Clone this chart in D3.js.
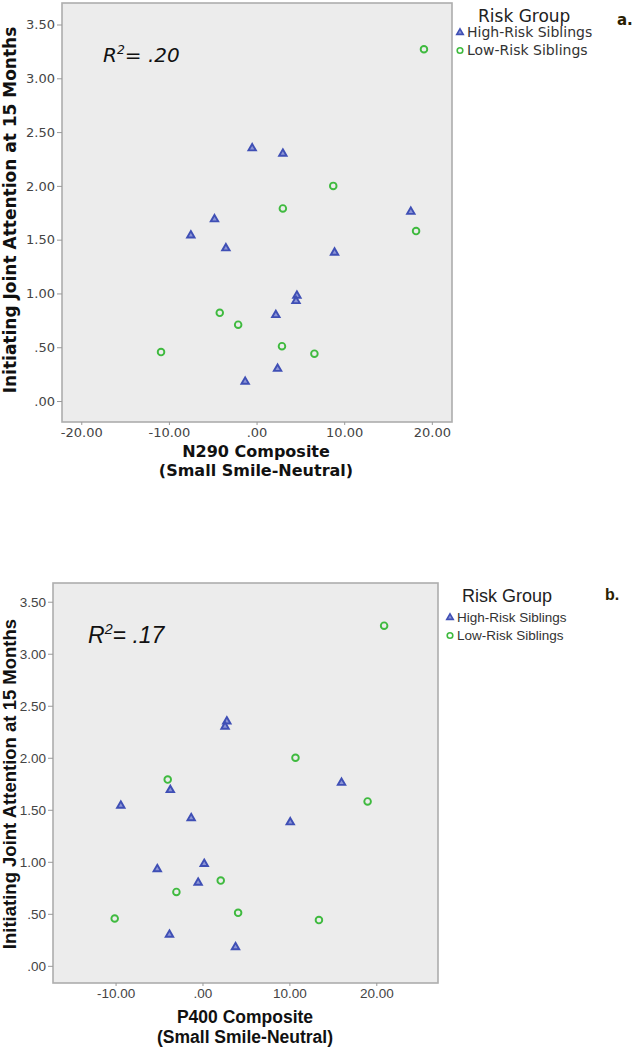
<!DOCTYPE html>
<html><head><meta charset="utf-8">
<script src="https://cdn.jsdelivr.net/npm/d3@7"></script>
<style>body{margin:0;background:#fff}</style>
</head><body>
<svg id="c" width="635" height="1050"></svg>
<script>
// ---------- data ----------
const riskGroups = ["High-Risk Siblings", "Low-Risk Siblings"];
const yTicks = [0, 0.5, 1, 1.5, 2, 2.5, 3, 3.5];
const xTicksA = [-20, -10, 0, 10, 20];
const xTicksB = [-10, 0, 10, 20];
// Initiating Joint Attention at 15 months
const ijaHigh = [2.35, 2.30, 1.76, 1.69, 1.54, 1.42, 1.38, 0.98, 0.93, 0.80, 0.30, 0.18];
const ijaLow  = [3.27, 2.00, 1.79, 1.58, 0.82, 0.71, 0.51, 0.455, 0.44];
// panel a: N290 composite
const n290High = [-0.5, 3.0, 17.6, -4.8, -7.5, -3.5, 8.9, 4.6, 4.5, 2.2, 2.4, -1.3];
const n290Low  = [19.1, 8.75, 3.0, 18.2, -4.2, -2.1, 2.9, -10.9, 6.6];
// panel b: P400 composite
const p400High = [2.8, 2.6, 16.0, -3.7, -9.4, -1.3, 10.1, 0.2, -5.2, -0.5, -3.8, 3.8];
const p400Low  = [20.9, 10.7, -4.0, 19.0, 2.1, -3.0, 4.1, -10.1, 13.4];
const r2Values = [".20", ".17"];
const xTitles = [["N290 Composite", "(Small Smile-Neutral)"], ["P400 Composite", "(Small Smile-Neutral)"]];
const yTitle = "Initiating Joint Attention at 15 Months";
const panelLetters = ["a.", "b."];

// ---------- layout ----------
const svg = d3.select("#c");
const blue = "#3f4fb5", green = "#3fba3f";

const panels = [
  { font: "DejaVu Sans", left: 62, right: 452, top: 3, bottom: 422,
    xDom: [-22.2, 22.3], yDom: [-0.195, 3.70], xTicks: xTicksA,
    high: n290High, low: n290Low, r2: r2Values[0], xTitle: xTitles[0], letter: panelLetters[0],
    tickFs: 13, titleFs: 17, xTitleFs: 16, yTitleX: 16, yTitleY: 210, xTitleX: 256, xTitleY1: 457, xTitleY2: 476,
    tickLabelY: 15, r2x: 103, r2y: 62, r2fs: 20,
    legX: 460, legTitleX: 478, legTitleY: 22, legTitleFs: 17, legItemY: [37, 55], legFs: 14, legTextX: 467,
    letterX: 617, letterY: 25, letterFs: 15 },
  { font: "Liberation Sans", left: 53, right: 438, top: 583, bottom: 983,
    xDom: [-17.2, 27.1], yDom: [-0.165, 3.68], xTicks: xTicksB,
    high: p400High, low: p400Low, r2: r2Values[1], xTitle: xTitles[1], letter: panelLetters[1],
    tickFs: 13.5, titleFs: 18.5, xTitleFs: 17.5, yTitleX: 16, yTitleY: 784, xTitleX: 245, xTitleY1: 1023, xTitleY2: 1043,
    tickLabelY: 15, r2x: 88, r2y: 643, r2fs: 23,
    legX: 450, legTitleX: 462, legTitleY: 602, legTitleFs: 18, legItemY: [622, 640], legFs: 13.5, legTextX: 457,
    letterX: 605, letterY: 600, letterFs: 16 }
];

function fmt(d) {
  let s = d.toFixed(2);
  if (s.startsWith("0.")) s = s.slice(1);
  if (s.startsWith("-0.")) s = "-" + s.slice(2);
  return s;
}

const triSym = d3.symbol().type(d3.symbolTriangle).size(24);

panels.forEach(p => {
  const x = d3.scaleLinear().domain(p.xDom).range([p.left, p.right]);
  const y = d3.scaleLinear().domain(p.yDom).range([p.bottom, p.top]);
  const g = svg.append("g").attr("font-family", p.font);

  // plot background + frame
  g.append("rect").attr("x", p.left).attr("y", p.top)
    .attr("width", p.right - p.left).attr("height", p.bottom - p.top)
    .attr("fill", "#ececec").attr("stroke", "#adadad").attr("stroke-width", 1.6);

  // y axis
  const ya = g.append("g").attr("transform", `translate(${p.left},0)`)
    .call(d3.axisLeft(y).tickValues(yTicks).tickSize(5).tickPadding(2).tickFormat(fmt));
  ya.select(".domain").remove();
  ya.selectAll("line").attr("stroke", "#999");
  ya.selectAll("text").attr("font-size", p.tickFs).attr("fill", "#444").attr("font-family", p.font);

  // x axis
  const xa = g.append("g").attr("transform", `translate(0,${p.bottom})`)
    .call(d3.axisBottom(x).tickValues(p.xTicks).tickSize(3).tickPadding(3).tickFormat(fmt));
  xa.select(".domain").remove();
  xa.selectAll("line").attr("stroke", "#999");
  xa.selectAll("text").attr("font-size", p.tickFs).attr("fill", "#444").attr("font-family", p.font)
    .attr("dy", null).attr("y", p.tickLabelY);

  // titles
  g.append("text").attr("transform", `translate(${p.yTitleX},${p.yTitleY}) rotate(-90)`)
    .attr("text-anchor", "middle").attr("font-weight", "bold").attr("font-size", p.titleFs)
    .attr("fill", "#111").text(yTitle);
  g.append("text").attr("x", p.xTitleX).attr("y", p.xTitleY1).attr("text-anchor", "middle")
    .attr("font-weight", "bold").attr("font-size", p.xTitleFs).attr("fill", "#111").text(p.xTitle[0]);
  g.append("text").attr("x", p.xTitleX).attr("y", p.xTitleY2).attr("text-anchor", "middle")
    .attr("font-weight", "bold").attr("font-size", p.xTitleFs).attr("fill", "#111").text(p.xTitle[1]);

  // R² annotation
  const r = g.append("text").attr("x", p.r2x).attr("y", p.r2y).attr("font-style", "italic")
    .attr("font-size", p.r2fs).attr("fill", "#111");
  r.append("tspan").text("R");
  r.append("tspan").attr("dy", -p.r2fs * 0.38).attr("font-size", p.r2fs * 0.62).text("2");
  r.append("tspan").attr("dy", p.r2fs * 0.38).text("= " + p.r2);

  // points
  const highPts = p.high.map((v, i) => [v, ijaHigh[i]]);
  const lowPts = p.low.map((v, i) => [v, ijaLow[i]]);
  g.selectAll("path.hi").data(highPts).join("path").attr("class", "hi")
    .attr("d", triSym).attr("transform", d => `translate(${x(d[0])},${y(d[1])})`)
    .attr("fill", "#8c95d6").attr("stroke", blue).attr("stroke-width", 1.9);
  g.selectAll("circle.lo").data(lowPts).join("circle").attr("class", "lo")
    .attr("cx", d => x(d[0])).attr("cy", d => y(d[1])).attr("r", 3.3)
    .attr("fill", "none").attr("stroke", green).attr("stroke-width", 1.9);

  // legend
  g.append("text").attr("x", p.legTitleX).attr("y", p.legTitleY).attr("font-size", p.legTitleFs)
    .attr("fill", "#222").text("Risk Group");
  g.append("path").attr("d", d3.symbol().type(d3.symbolTriangle).size(18))
    .attr("transform", `translate(${p.legX},${p.legItemY[0] - 4.5})`)
    .attr("fill", "#8c95d6").attr("stroke", blue).attr("stroke-width", 1.6);
  g.append("circle").attr("cx", p.legX).attr("cy", p.legItemY[1] - 4.5).attr("r", 2.8)
    .attr("fill", "none").attr("stroke", green).attr("stroke-width", 1.6);
  riskGroups.forEach((t, i) => {
    g.append("text").attr("x", p.legTextX).attr("y", p.legItemY[i]).attr("font-size", p.legFs)
      .attr("fill", "#333").text(t);
  });
  g.append("text").attr("x", p.letterX).attr("y", p.letterY).attr("font-size", p.letterFs)
    .attr("font-weight", "bold").attr("fill", "#2a2000").text(p.letter);
});
</script>
</body></html>
